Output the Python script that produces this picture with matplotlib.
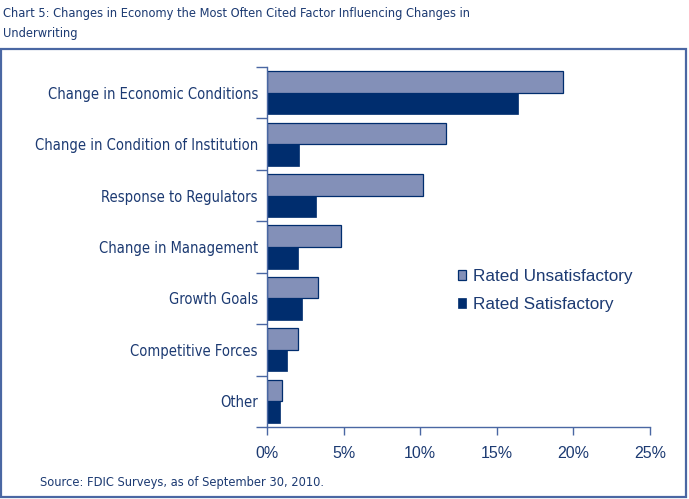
import matplotlib.pyplot as plt
from matplotlib.patches import Rectangle
import numpy as np

categories = ['Change in Economic Conditions', 'Change in Condition of Institution',
              'Response to Regulators', 'Change in Management', 'Growth Goals',
              'Competitive Forces', 'Other']
unsatisfactory = [19.3, 11.7, 10.2, 4.8, 3.3, 2.0, 0.95]
satisfactory = [16.4, 2.1, 3.2, 2.0, 2.3, 1.3, 0.85]
x_ticks = [0, 5, 10, 15, 20, 25]

navy = '#002D6E'
light = '#8390B8'
text_col = '#1C3A72'
line_col = '#4A67A3'

fig = plt.figure(figsize=(6.89, 4.99), dpi=100)

# panel frame
fig.patches.append(Rectangle((0.002, 0.004), 0.994, 0.897, transform=fig.transFigure,
                             fill=False, edgecolor=line_col, linewidth=1.6))

fig.text(0.004, 0.972, 'Chart 5: Changes in Economy the Most Often Cited Factor Influencing Changes in',
         fontsize=9.2, color=text_col, family='DejaVu Sans', stretch='condensed', va='center')
fig.text(0.004, 0.932, 'Underwriting', fontsize=9.2, color=text_col, family='DejaVu Sans',
         stretch='condensed', va='center')

ax = fig.add_axes([0.3875, 0.1443, 0.5559, 0.7214])
y = np.arange(len(categories))
h = 0.42
ax.barh(y - h / 2, unsatisfactory, height=h, color=light, edgecolor=navy, linewidth=0.9,
        label='Rated Unsatisfactory')
ax.barh(y + h / 2, satisfactory, height=h, color=navy, edgecolor=navy, linewidth=0.5,
        label='Rated Satisfactory')

ax.set_xlim(0, 25)
ax.set_ylim(len(categories) - 0.5, -0.5)
ax.set_xticks(x_ticks)
ax.set_xticklabels([f'{t}%' for t in x_ticks], family='Liberation Sans', fontsize=11.5)
ax.set_yticks(np.arange(-0.5, len(categories), 1.0))
ax.set_yticklabels([])
ax.set_yticks(y, minor=True)
ax.set_yticklabels(categories, minor=True, family='DejaVu Sans', stretch='condensed',
                   fontsize=10.5, color=text_col)
ax.tick_params(axis='y', which='minor', length=0, pad=6.5)
ax.tick_params(axis='y', which='major', length=8, width=1, color=line_col)
ax.tick_params(axis='x', length=6, width=1, color=line_col, labelcolor=text_col, pad=8)

for s in ['top', 'right']:
    ax.spines[s].set_visible(False)
for s in ['left', 'bottom']:
    ax.spines[s].set_color(line_col)
    ax.spines[s].set_linewidth(1)

leg = ax.legend(loc='center left', bbox_to_anchor=(0.48, 0.379), frameon=False,
                prop={'family': 'Liberation Sans', 'size': 12.3},
                handlelength=0.5, handleheight=0.5, handletextpad=0.4,
                labelspacing=0.75, borderaxespad=0)
for t in leg.get_texts():
    t.set_color(text_col)

fig.text(0.058, 0.034, 'Source: FDIC Surveys, as of September 30, 2010.', fontsize=8.3,
         color=text_col, va='center')

fig.savefig('out.png', dpi=100)
